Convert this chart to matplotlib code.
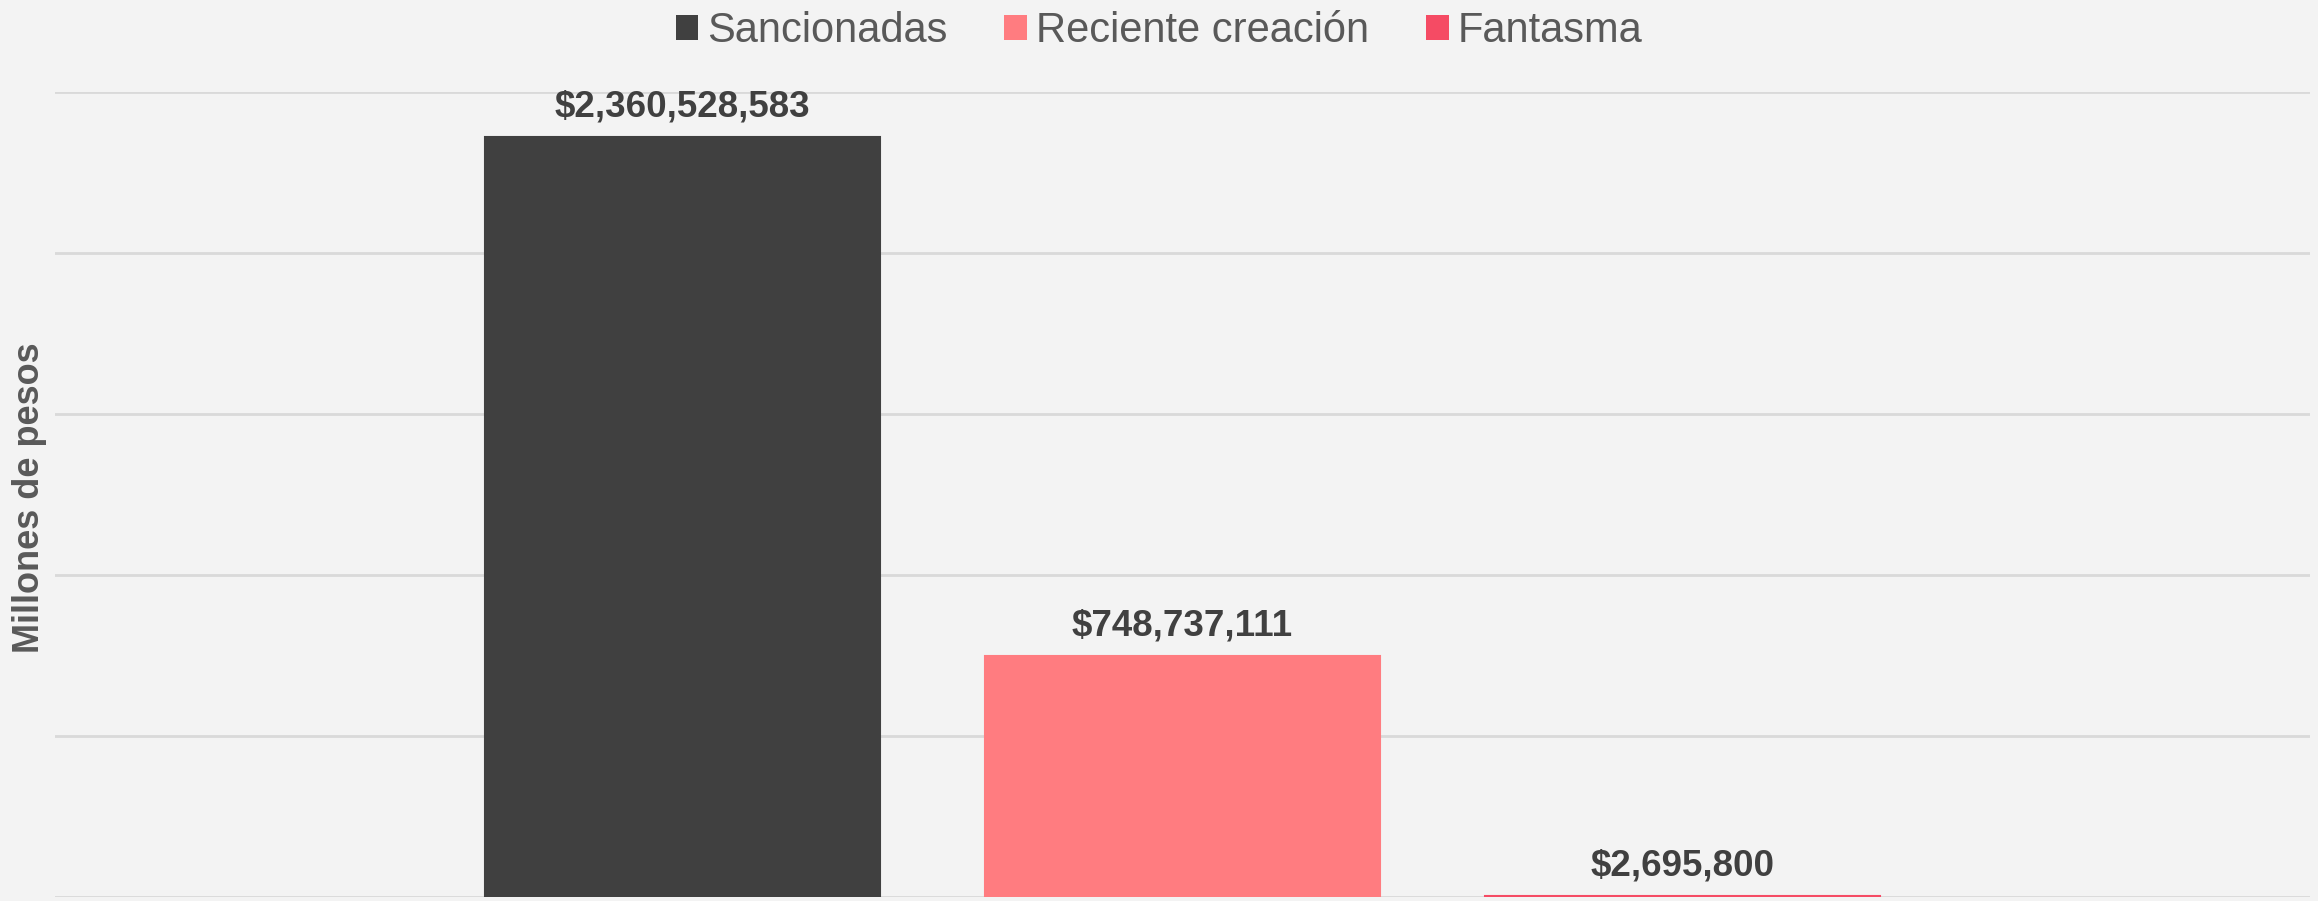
import matplotlib
matplotlib.use("Agg")
import matplotlib.pyplot as plt
from matplotlib.patches import Patch
from matplotlib.ticker import MultipleLocator

plt.rcParams['font.family'] = ['Liberation Sans', 'DejaVu Sans']

series = ["Sancionadas", "Reciente creación", "Fantasma"]
values = [2360528583, 748737111, 2695800]
labels = ["$2,360,528,583", "$748,737,111", "$2,695,800"]
colors = ["#404040", "#ff7c80", "#f54b64"]

W, H = 2318, 901
fig = plt.figure(figsize=(W / 100, H / 100), dpi=100)
fig.patch.set_facecolor("#f3f3f3")

ax_left, ax_right = 55 / W, 2310 / W
ax_bottom, ax_top = (H - 897) / H, (H - 92) / H
ax = fig.add_axes([ax_left, ax_bottom, ax_right - ax_left, ax_top - ax_bottom])
ax.set_facecolor("none")

x = list(range(len(series)))
bars = ax.bar(x, values, width=0.79, color=colors, edgecolor=colors,
              linewidth=1.5, zorder=3)

ax.set_ylim(0, 2.5e9)
ax.set_xlim(-1.255, 3.255)
ax.yaxis.set_major_locator(MultipleLocator(5e8))
ax.grid(axis="y", color="#d9d9d9", linewidth=2, zorder=0)
ax.set_axisbelow(True)
for s in ax.spines.values():
    s.set_visible(False)
ax.tick_params(left=False, bottom=False, labelleft=False, labelbottom=False)

for xi, v, lab in zip(x, values, labels):
    ax.annotate(lab, (xi, v), xytext=(0, 9), textcoords="offset points",
                ha="center", va="bottom", fontsize=26.5, fontweight="bold",
                color="#404040", zorder=4)

fig.text(30 / W, (H - 498) / H, "Millones de pesos", rotation=90,
         ha="center", va="center", fontsize=26, fontweight="bold",
         color="#595959")

handles = [Patch(facecolor=c, edgecolor="none", label=s) for s, c in zip(series, colors)]
leg = fig.legend(handles=handles, loc="center", bbox_to_anchor=(0.5, (H - 31) / H),
                 ncol=3, frameon=False, fontsize=30, handlelength=0.55,
                 handleheight=0.55, handletextpad=0.22, columnspacing=1.35,
                 borderpad=0, borderaxespad=0)
for t in leg.get_texts():
    t.set_color("#595959")

fig.savefig("out.png", dpi=100, facecolor=fig.get_facecolor())
